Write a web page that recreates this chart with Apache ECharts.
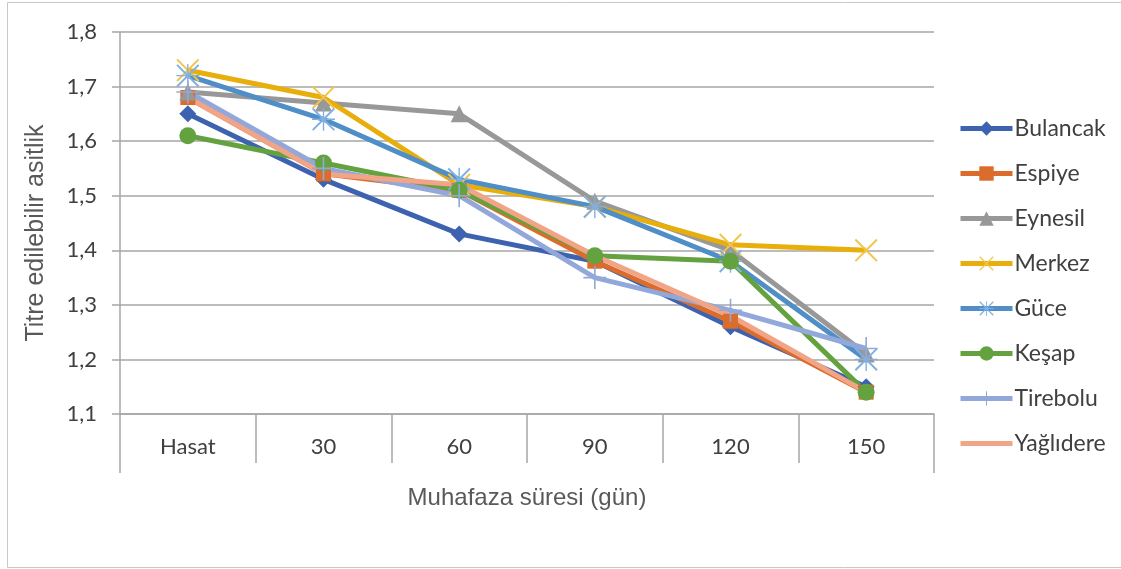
<!DOCTYPE html>
<html>
<head>
<meta charset="utf-8">
<script src="https://cdn.jsdelivr.net/npm/echarts@6/dist/echarts.min.js"></script>
<style>
  html, body { margin: 0; padding: 0; background: #fff; }
  #chart { width: 1121px; height: 569px; }
</style>
</head>
<body>
<div id="chart"></div>
<script>
// muhafaza süresi (gün)
var categories = ['Hasat', '30', '60', '90', '120', '150'];

var bulancak = [1.65, 1.53, 1.43, 1.38, 1.26, 1.15];
var espiye = [1.68, 1.54, 1.51, 1.38, 1.27, 1.14];
var eynesil = [1.69, 1.67, 1.65, 1.49, 1.40, 1.21];
var merkez = [1.73, 1.68, 1.52, 1.48, 1.41, 1.40];
var guce = [1.72, 1.64, 1.53, 1.48, 1.38, 1.20];
var kesap = [1.61, 1.56, 1.51, 1.39, 1.38, 1.14];
var tirebolu = [1.69, 1.55, 1.50, 1.35, 1.29, 1.22];
var yaglidere = [1.68, 1.54, 1.52, 1.39, 1.28, 1.14];

var yTicks = [1.1, 1.2, 1.3, 1.4, 1.5, 1.6, 1.7, 1.8];

// ince çizgili işaretler
var xMark = 'path://M0,1.2L1.2,0L20,18.8L18.8,20Z M18.8,0L20,1.2L1.2,20L0,18.8Z';
var starMark = 'path://M0,1.2L1.2,0L20,18.8L18.8,20Z M18.8,0L20,1.2L1.2,20L0,18.8Z M9.4,0H10.6V20H9.4Z M0,9.4H20V10.6H0Z';
var plusMark = 'path://M9.3,0H10.7V20H9.3Z M0,9.3H20V10.7H0Z';

function mkSeries(name, data, color, symbol, size, markColor) {
  return {
    name: name,
    type: 'line',
    data: data,
    symbol: symbol,
    symbolSize: size,
    symbolKeepAspect: true,
    showSymbol: symbol !== 'none',
    lineStyle: { color: color, width: 5 },
    itemStyle: { color: markColor || color, borderWidth: 0 },
    emphasis: { disabled: true },
    animation: false
  };
}

var chart = echarts.init(document.getElementById('chart'));
chart.setOption({
  backgroundColor: '#fff',
  graphic: [{
    type: 'rect',
    shape: { x: 7.5, y: 2.5, width: 1125, height: 565 },
    style: { fill: 'none', stroke: '#c8c8c8', lineWidth: 1 },
    silent: true
  }],
  grid: { left: 120, right: 187, top: 32, bottom: 155, containLabel: false },
  legend: {
    orient: 'vertical',
    left: 953,
    top: 112,
    itemWidth: 52,
    itemHeight: 18,
    itemGap: 22,
    lineStyle: { width: 5 },
    textStyle: { fontFamily: 'Lato', fontSize: 23, color: '#404040', padding: [0, 0, 0, -3] },
    data: ['Bulancak', 'Espiye', 'Eynesil', 'Merkez', 'Güce', 'Keşap', 'Tirebolu',
      { name: 'Yağlıdere', itemStyle: { opacity: 0 } }]
  },
  xAxis: [{
    type: 'category',
    data: categories,
    boundaryGap: true,
    name: 'Muhafaza süresi (gün)',
    nameLocation: 'middle',
    nameGap: 72,
    nameTextStyle: { fontFamily: 'Liberation Sans', fontSize: 24, color: '#595959' },
    axisLine: { show: true, lineStyle: { color: '#a6a6a6', width: 1.5 } },
    axisTick: { show: true, length: 49, lineStyle: { color: '#a6a6a6', width: 1.5 } },
    axisLabel: { fontFamily: 'Lato', fontSize: 22, color: '#404040', margin: 22 }
  }, {
    // dış kenar çizgileri biraz daha uzun
    type: 'category',
    data: categories,
    boundaryGap: true,
    position: 'bottom',
    axisLine: { show: false },
    axisTick: {
      show: true, length: 59,
      interval: function (i) { return i === 0; },
      lineStyle: { color: '#a6a6a6', width: 1.5 }
    },
    axisLabel: { show: false },
    splitLine: { show: false }
  }],
  yAxis: {
    type: 'value',
    min: 1.1,
    max: 1.8,
    interval: 0.1,
    name: 'Titre edilebilir asitlik',
    nameLocation: 'middle',
    nameGap: 71,
    nameTextStyle: { fontFamily: 'Liberation Sans', fontSize: 25, color: '#595959', padding: [0, 20, 0, 0] },
    axisLine: { show: true, lineStyle: { color: '#a6a6a6', width: 1.5 } },
    axisTick: { show: true, length: 8, lineStyle: { color: '#a6a6a6', width: 1.5 } },
    splitLine: { show: true, lineStyle: { color: '#a6a6a6', width: 1.5 } },
    axisLabel: {
      fontFamily: 'Lato', fontSize: 22, color: '#404040', margin: 23,
      formatter: function (v) {
        var t = yTicks.find(function (k) { return Math.abs(k - v) < 1e-6; });
        return t === undefined ? '' : t.toFixed(1).replace('.', ',');
      }
    }
  },
  series: [
    mkSeries('Bulancak', bulancak, '#3d63b0', 'diamond', 17),
    mkSeries('Espiye', espiye, '#dc6c2b', 'rect', 15),
    mkSeries('Eynesil', eynesil, '#989898', 'triangle', 17),
    mkSeries('Merkez', merkez, '#e8ae0c', xMark, 23, '#f3c44a'),
    mkSeries('Güce', guce, '#4f8ec7', starMark, 23, '#7fb0e0'),
    mkSeries('Keşap', kesap, '#64a23f', 'circle', 17),
    mkSeries('Tirebolu', tirebolu, '#92a8da', plusMark, 23),
    mkSeries('Yağlıdere', yaglidere, '#f1a486', 'none', 0)
  ]
});
</script>
</body>
</html>
